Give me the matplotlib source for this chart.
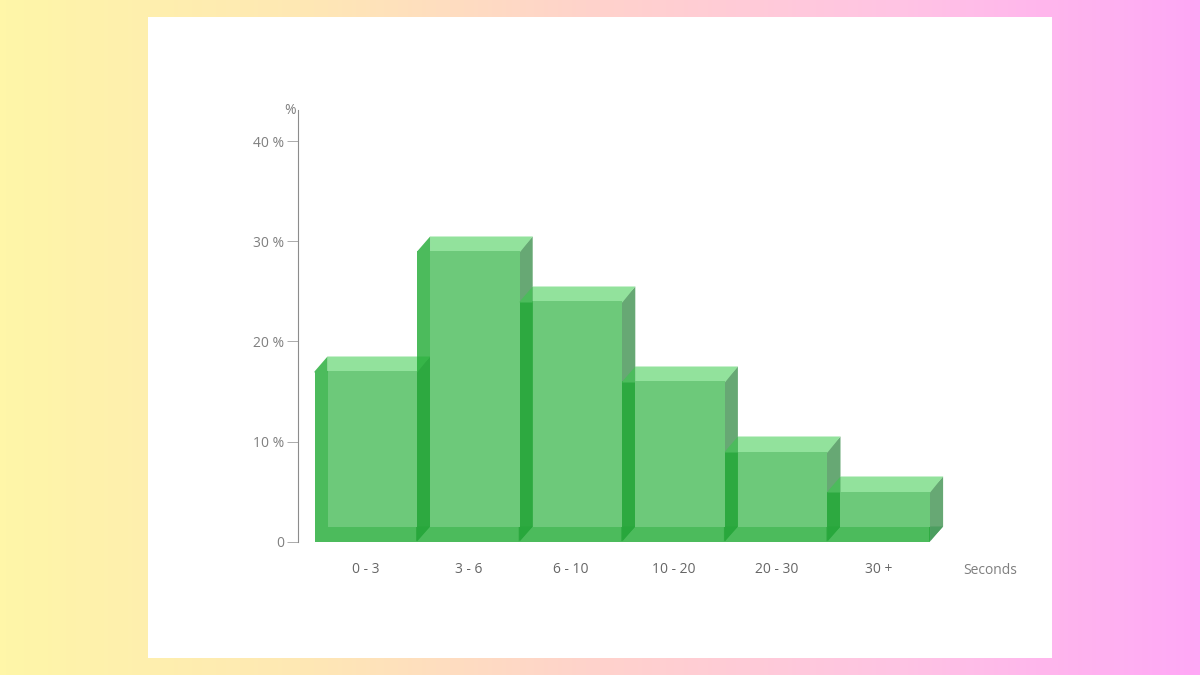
"""Histogramme 3D : temps de chargement en secondes."""
import numpy as np
import matplotlib.pyplot as plt
from matplotlib.colors import LinearSegmentedColormap
from matplotlib.patches import Polygon, Rectangle

plt.rcParams["font.family"] = ["Open Sans", "DejaVu Sans"]

CATEGORIES = ["0 - 3", "3 - 6", "6 - 10", "10 - 20", "20 - 30", "30 +"]
POURCENTAGES = [17, 29, 24, 16, 9, 5]
Y_TICKS = [0, 10, 20, 30, 40]
Y_LABELS = ["0", "10 %", "20 %", "30 %", "40 %"]

LARGEUR_PX = 102.6  # largeur d'une barre en pixels
DX = 13 / LARGEUR_PX  # profondeur horizontale
DY = 1.5  # profondeur verticale, en %
EPS_X = 1 / LARGEUR_PX  # les faces passent un peu sous la face avant
EPS_Y = 0.1

W, H = 1200, 675


def axes_pixels(fig, x0, y0, x1, y1):
    """Cree un axe a partir de coordonnees en pixels (origine en haut a gauche)."""
    return fig.add_axes([x0 / W, 1 - y1 / H, (x1 - x0) / W, (y1 - y0) / H])


def barre_3d(ax, x0, h, zorder):
    x1 = x0 + 1
    # face droite
    ax.add_patch(Polygon([(x1 - EPS_X, 0), (x1 + DX, DY), (x1 + DX, h + DY), (x1 - EPS_X, h)],
                         fc="#67A874", ec="none", zorder=zorder))
    # coin sombre ou la face droite croise le dessous
    ax.add_patch(Polygon([(x1, 0), (x1 + DX, DY), (x1, DY)],
                         fc="#4C9E60", ec="none", zorder=zorder + 0.05))
    # dessus
    ax.add_patch(Polygon([(x0 + DX, h - EPS_Y), (x1, h - EPS_Y), (x1 + DX, h + DY), (x0 + DX, h + DY)],
                         fc="#92E29C", ec="none", zorder=zorder + 0.1))
    # dessous et face gauche d'un seul tenant, transparents
    ax.add_patch(Polygon([(x0, 0), (x1, 0), (x1, DY + EPS_Y), (x0 + DX + EPS_X, DY + EPS_Y),
                          (x0 + DX + EPS_X, h), (x0, h)],
                         fc="#1FAA33", alpha=0.8, ec="none", zorder=zorder + 0.2))
    # petit triangle en haut de la face gauche
    ax.add_patch(Polygon([(x0, h - EPS_Y), (x0 + DX, h - EPS_Y), (x0 + DX, h + DY), (x0, h)],
                         fc="#4CBB5C", ec="none", zorder=zorder + 0.35))
    # face avant
    ax.add_patch(Rectangle((x0 + DX, DY), 1 - DX, h - DY,
                           fc="#6DC97A", ec="none", zorder=zorder + 0.4))


fig = plt.figure(figsize=(W / 100, H / 100), dpi=100)

# fond en degrade
fond = fig.add_axes([0, 0, 1, 1], zorder=0)
degrade = LinearSegmentedColormap.from_list(
    "fond", ["#FFF6A8", "#FEE8B4", "#FFD2CC", "#FFC4E4", "#FFA8F6"]
)
fond.imshow(np.linspace(0, 1, 600).reshape(1, -1), aspect="auto", cmap=degrade,
            extent=(0, W, H, 0))
fond.add_patch(Rectangle((148, 17), 904, 641, fc="white", ec="none"))
fond.set_xlim(0, W)
fond.set_ylim(H, 0)
fond.axis("off")

ax = axes_pixels(fig, 298, 110, 1010, 541.5)
ax.set_zorder(1)
ax.patch.set_alpha(0)
ax.set_xlim((298 - 314.5) / LARGEUR_PX, (1010 - 314.5) / LARGEUR_PX)
ax.set_ylim(0, 43.15)

for i, valeur in enumerate(POURCENTAGES):
    barre_3d(ax, i, valeur, 3 + i)

for cote in ("top", "right", "bottom"):
    ax.spines[cote].set_visible(False)
ax.spines["left"].set_color("#8C8C8C")
ax.spines["left"].set_linewidth(0.8)

ax.set_yticks(Y_TICKS, Y_LABELS)
ax.tick_params(axis="y", length=11.5 * 0.72, width=0.7, color="#ABABAB",
               labelcolor="#7F7F7F", labelsize=10, pad=1.5)
ax.set_xticks(np.arange(len(CATEGORIES)) + 0.5, CATEGORIES)
ax.tick_params(axis="x", length=0, labelcolor="#666666", labelsize=10, pad=14.5)

fond.text(290.5, 110, "%", color="#7F7F7F", fontsize=10, ha="center", va="center", zorder=5)
fond.text(990, 570.5, "Seconds", color="#7F7F7F", fontsize=10, ha="center", va="center", zorder=5)

fig.savefig("out.png", dpi=100)
